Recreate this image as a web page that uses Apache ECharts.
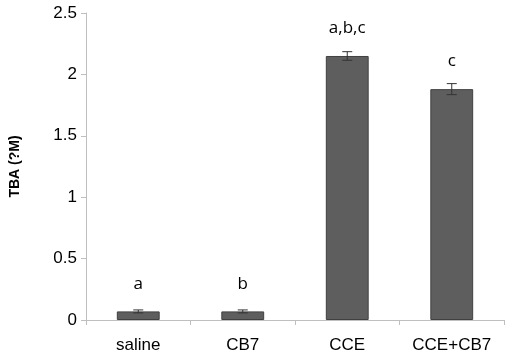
<!DOCTYPE html>
<html lang="en">
<head>
    <meta charset="UTF-8">
    <title>TBA bar chart</title>
    <script type="text/javascript" src="https://cdn.jsdelivr.net/npm/echarts@6/dist/echarts.min.js"></script>
</head>
<body style="margin:0;">
<div id="chart" style="width:510px;height:360px;"></div>
<script type="text/javascript">
    var categories = ['saline', 'CB7', 'CCE', 'CCE+CB7'];
    var values = [0.07, 0.07, 2.15, 1.88];
    var errors = [0.012, 0.012, 0.035, 0.045];
    var letters = ['a', 'b', 'a,b,c', 'c'];
    var yTicks = [0, 0.5, 1, 1.5, 2, 2.5];

    var myChart = echarts.init(document.getElementById('chart'));

    var errData = values.map(function (v, i) {
        return [i, v - errors[i], v + errors[i]];
    });

    option = {
        animation: false,
        grid: {left: 86, right: 6, top: 13, bottom: 40, outerBoundsMode: 'none', containLabel: false},
        xAxis: {
            type: 'category',
            data: categories,
            axisLine: {lineStyle: {color: '#bfbfbf'}},
            axisTick: {show: true, length: 5, lineStyle: {color: '#bfbfbf'}},
            axisLabel: {color: '#000', fontSize: 17, fontFamily: 'Liberation Sans, Arial', margin: 17}
        },
        yAxis: {
            type: 'value',
            min: yTicks[0],
            max: yTicks[yTicks.length - 1],
            interval: 0.5,
            name: 'TBA (?M)',
            nameLocation: 'middle',
            nameGap: 64,
            nameTextStyle: {color: '#000', fontSize: 14, fontWeight: 'bold', fontFamily: 'Liberation Sans, Arial'},
            splitLine: {show: false},
            axisLine: {show: true, lineStyle: {color: '#bfbfbf'}},
            axisTick: {show: true, length: 5, lineStyle: {color: '#bfbfbf'}},
            axisLabel: {color: '#000', fontSize: 17, fontFamily: 'Liberation Sans, Arial', margin: 9}
        },
        series: [{
            type: 'bar',
            data: values,
            barWidth: '41%',
            itemStyle: {color: '#5e5e5e', borderColor: '#404040', borderWidth: 1},
            label: {
                show: true,
                position: 'top',
                distance: 19,
                color: '#000',
                fontSize: 17,
                fontFamily: 'Open Sans, DejaVu Sans',
                formatter: function (p) {
                    return letters[p.dataIndex];
                }
            }
        }, {
            type: 'custom',
            data: errData,
            z: 10,
            renderItem: function (params, api) {
                var x = api.value(0);
                var lo = api.coord([x, api.value(1)]);
                var hi = api.coord([x, api.value(2)]);
                var hw = 5;
                var st = {stroke: '#333', lineWidth: 1};
                return {
                    type: 'group',
                    children: [
                        {type: 'line', shape: {x1: lo[0], y1: lo[1], x2: hi[0], y2: hi[1]}, style: st},
                        {type: 'line', shape: {x1: lo[0] - hw, y1: lo[1], x2: lo[0] + hw, y2: lo[1]}, style: st},
                        {type: 'line', shape: {x1: hi[0] - hw, y1: hi[1], x2: hi[0] + hw, y2: hi[1]}, style: st}
                    ]
                };
            }
        }]
    };
    myChart.setOption(option);
</script>
</body>
</html>
